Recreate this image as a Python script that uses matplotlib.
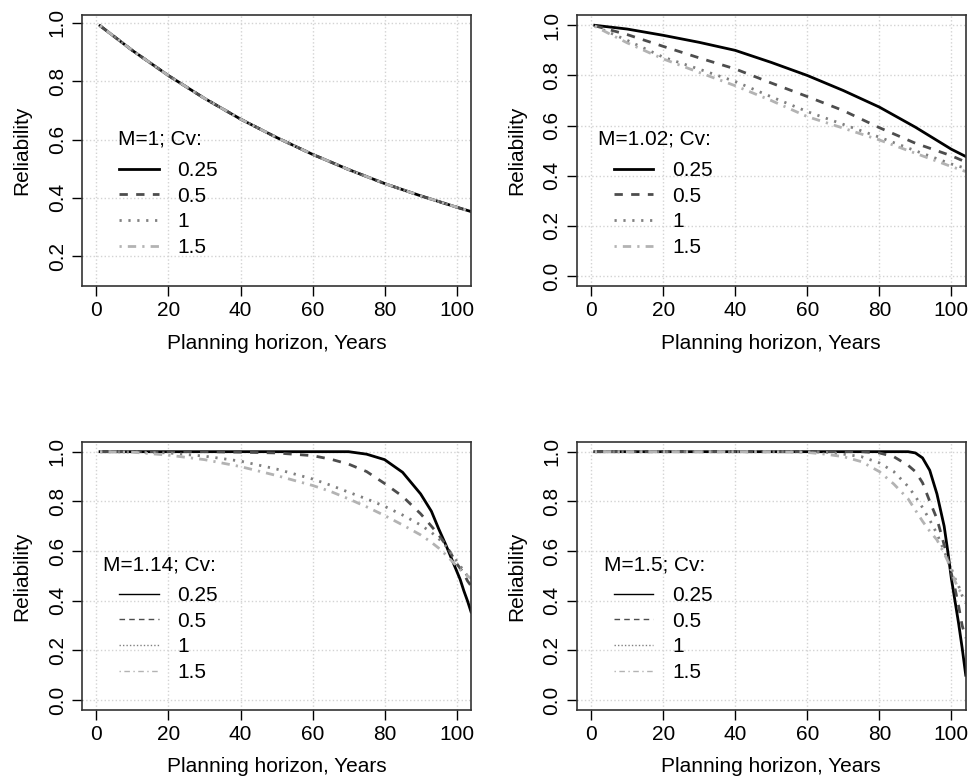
import numpy as np
import matplotlib
matplotlib.use('Agg')
import matplotlib.pyplot as plt

plt.rcParams['font.family'] = ['Liberation Sans', 'DejaVu Sans']
plt.rcParams['font.size'] = 15

cv_labels = ['0.25', '0.5', '1', '1.5']

# M = 1
x_m1 = [1, 10, 20, 30, 40, 50, 60, 70, 80, 90, 100, 104]
m1_cv025 = [0.99, 0.905, 0.819, 0.741, 0.670, 0.607, 0.549, 0.497, 0.449, 0.407, 0.368, 0.353]
m1_cv05 = [0.99, 0.905, 0.819, 0.741, 0.670, 0.607, 0.549, 0.497, 0.449, 0.407, 0.368, 0.353]
m1_cv1 = [0.99, 0.905, 0.819, 0.741, 0.670, 0.607, 0.549, 0.497, 0.449, 0.407, 0.368, 0.353]
m1_cv15 = [0.99, 0.905, 0.819, 0.741, 0.670, 0.607, 0.549, 0.497, 0.449, 0.407, 0.368, 0.353]

# M = 1.02
x_m102 = [1, 10, 20, 30, 40, 50, 60, 70, 80, 90, 100, 104]
m102_cv025 = [1.0, 0.985, 0.96, 0.932, 0.90, 0.852, 0.80, 0.74, 0.674, 0.594, 0.506, 0.477]
m102_cv05 = [0.998, 0.963, 0.916, 0.87, 0.826, 0.77, 0.716, 0.66, 0.592, 0.53, 0.48, 0.455]
m102_cv1 = [0.997, 0.94, 0.873, 0.825, 0.776, 0.715, 0.656, 0.605, 0.554, 0.50, 0.447, 0.43]
m102_cv15 = [0.996, 0.93, 0.866, 0.812, 0.759, 0.70, 0.636, 0.59, 0.543, 0.49, 0.437, 0.417]

# M = 1.14
x_m114 = [1, 10, 20, 30, 40, 50, 60, 65, 70, 75, 80, 85, 90, 93, 95, 97, 99, 100, 101, 102, 103, 104]
m114_cv025 = [1.0, 1.0, 1.0, 1.0, 1.0, 1.0, 1.0, 1.0, 1.0, 0.99, 0.968, 0.917, 0.83, 0.76, 0.69, 0.625, 0.555, 0.52, 0.485, 0.44, 0.40, 0.355]
m114_cv05 = [1.0, 1.0, 1.0, 1.0, 0.998, 0.995, 0.984, 0.97, 0.95, 0.92, 0.872, 0.82, 0.75, 0.70, 0.665, 0.625, 0.575, 0.55, 0.53, 0.51, 0.48, 0.46]
m114_cv1 = [1.0, 0.999, 0.995, 0.982, 0.962, 0.93, 0.89, 0.865, 0.837, 0.81, 0.78, 0.745, 0.705, 0.675, 0.65, 0.62, 0.58, 0.56, 0.54, 0.52, 0.50, 0.49]
m114_cv15 = [1.0, 0.998, 0.986, 0.968, 0.94, 0.904, 0.864, 0.84, 0.81, 0.778, 0.743, 0.705, 0.665, 0.635, 0.612, 0.585, 0.555, 0.54, 0.525, 0.51, 0.50, 0.49]

# M = 1.5
x_m15 = [1, 10, 20, 30, 40, 50, 60, 65, 70, 75, 80, 84, 88, 90, 92, 94, 96, 98, 99, 100, 101, 102, 103, 104]
m15_cv025 = [1.0, 1.0, 1.0, 1.0, 1.0, 1.0, 1.0, 1.0, 1.0, 1.0, 1.0, 1.0, 1.0, 0.995, 0.975, 0.925, 0.83, 0.70, 0.60, 0.49, 0.40, 0.31, 0.21, 0.10]
m15_cv05 = [1.0, 1.0, 1.0, 1.0, 1.0, 1.0, 1.0, 1.0, 1.0, 1.0, 0.995, 0.98, 0.945, 0.92, 0.875, 0.80, 0.73, 0.625, 0.57, 0.51, 0.45, 0.38, 0.30, 0.25]
m15_cv1 = [1.0, 1.0, 1.0, 1.0, 1.0, 1.0, 1.0, 0.998, 0.99, 0.98, 0.955, 0.92, 0.86, 0.82, 0.775, 0.725, 0.67, 0.60, 0.565, 0.53, 0.49, 0.46, 0.42, 0.39]
m15_cv15 = [1.0, 1.0, 1.0, 1.0, 1.0, 1.0, 0.997, 0.99, 0.98, 0.96, 0.92, 0.87, 0.81, 0.765, 0.72, 0.68, 0.645, 0.59, 0.56, 0.52, 0.48, 0.445, 0.43, 0.42]

colors = ['black', '#4d4d4d', '#808080', '#b3b3b3']
styles = ['-', (0, (3, 3)), (0, (0.8, 2.4)), (0, (0.8, 2.2, 3, 2.2))]
styles_thin = ['-', (0, (4, 3)), (0, (1, 1.5)), (0, (1, 2.5, 4, 2.5))]

fig = plt.figure(figsize=(9.71, 7.82), dpi=100)

panels = [
    ([0.0845, 0.634, 0.4006, 0.3465], x_m1, [m1_cv025, m1_cv05, m1_cv1, m1_cv15], 'M=1; Cv:', (0.097, 1.026), [0.2, 0.4, 0.6, 0.8, 1.0], False),
    ([0.594, 0.634, 0.4006, 0.3465], x_m102, [m102_cv025, m102_cv05, m102_cv1, m102_cv15], 'M=1.02; Cv:', (-0.04, 1.04), [0.0, 0.2, 0.4, 0.6, 0.8, 1.0], False),
    ([0.0845, 0.0921, 0.4006, 0.343], x_m114, [m114_cv025, m114_cv05, m114_cv1, m114_cv15], 'M=1.14; Cv:', (-0.04, 1.04), [0.0, 0.2, 0.4, 0.6, 0.8, 1.0], True),
    ([0.594, 0.0921, 0.4006, 0.343], x_m15, [m15_cv025, m15_cv05, m15_cv1, m15_cv15], 'M=1.5; Cv:', (-0.04, 1.04), [0.0, 0.2, 0.4, 0.6, 0.8, 1.0], True),
]

for rect, xs, curves, title, ylim, yticks, thin in panels:
    ax = fig.add_axes(rect)
    for i in range(4):
        ax.plot(xs, curves[i], color=colors[i], linestyle=styles[i], linewidth=2)
    ax.set_xlim(-4, 104)
    ax.set_ylim(ylim)
    ax.set_xticks([0, 20, 40, 60, 80, 100])
    ax.set_yticks(yticks)
    ax.set_yticklabels(['%.1f' % v for v in yticks], rotation=90, va='center')
    ax.grid(True, color='#d3d3d3', linestyle=':', linewidth=1)
    ax.set_axisbelow(True)
    ax.tick_params(direction='out', length=7, width=1, pad=4)
    for sp in ax.spines.values():
        sp.set_linewidth(1.2)
        sp.set_color('#333333')
    ax.set_xlabel('Planning horizon, Years')
    ax.set_ylabel('Reliability')
    ax.xaxis.set_label_coords(0.5, -0.175)
    ax.yaxis.set_label_coords(-0.13, 0.5)

    # legend title drawn separately so it sits centred above the entries
    ax.text(0.2, 0.542, title, transform=ax.transAxes, ha='center', va='center')
    handles = []
    for i in range(4):
        if thin:
            h, = ax.plot([], [], color=colors[i], linestyle=styles_thin[i], linewidth=1)
        else:
            h, = ax.plot([], [], color=colors[i], linestyle=styles[i], linewidth=2)
        handles.append(h)
    ax.legend(handles, cv_labels, frameon=False, loc='upper left',
              bbox_to_anchor=(0.095, 0.462), borderpad=0, labelspacing=0.32,
              handlelength=1.9, handletextpad=0.9, borderaxespad=0)

plt.savefig('out.png', dpi=100)
